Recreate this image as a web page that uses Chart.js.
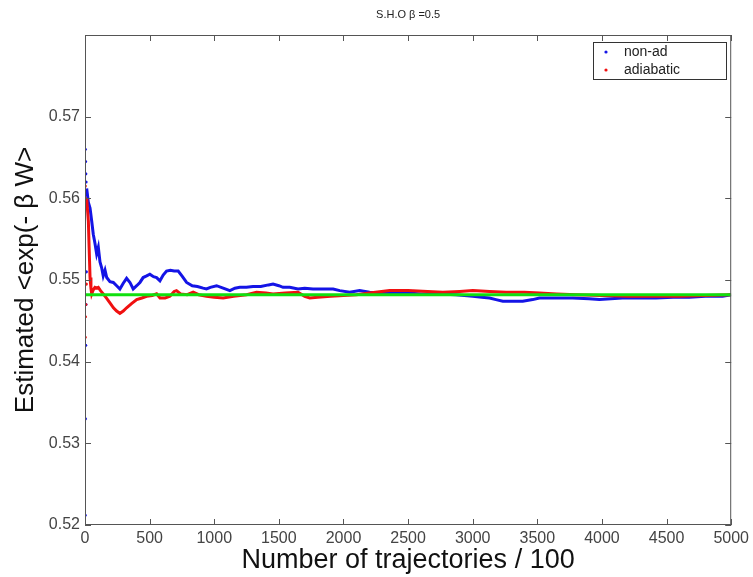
<!DOCTYPE html>
<html>
<head>
<meta charset="utf-8">
<script src="https://cdn.jsdelivr.net/npm/chart.js@4.4.1/dist/chart.umd.min.js"></script>
<style>
  body { margin: 0; background: #fff; }
  #wrap { width: 753px; height: 577px; }
</style>
</head>
<body>
<div id="wrap"><canvas id="shoChart"></canvas></div>
<script>
// values
const titleText = 'S.H.O \u03b2 =0.5';
const xTitle = 'Number of trajectories / 100';
const yTitle = 'Estimated <exp(- \u03b2 W>';
const seriesNames = ['non-ad', 'adiabatic'];

const exactValue = 0.5482; // green reference line

// non-ad (blue)
const blueX = [1, 2, 3, 4, 5, 6, 7, 8, 10, 12,
  13, 26, 39, 52, 64, 77, 90, 103, 116, 129, 141, 155, 168, 193, 219, 245, 270, 296, 322, 348,
  373, 400, 425, 450, 477, 502, 530, 554, 580, 605, 631, 660, 690, 721, 750, 786, 830, 870, 914, 940,
  970, 1018, 1069, 1121, 1160, 1198, 1249, 1300, 1360, 1420, 1455, 1500, 1532, 1584, 1648, 1700, 1764, 1842, 1920, 1971,
  2048, 2125, 2202, 2305, 2400, 2500, 2600, 2743, 2870, 3001, 3070, 3130, 3180, 3233, 3300, 3387, 3464, 3516, 3600, 3700,
  3774, 3900, 3980, 4158, 4300, 4418, 4550, 4675, 4800, 4933, 5000];
const blueY = [0.5212, 0.5660, 0.5330, 0.5645, 0.5420, 0.5630, 0.5470, 0.5620, 0.5510, 0.5605,
  0.5612, 0.5595, 0.5588, 0.5572, 0.5556, 0.5545, 0.5532, 0.5540, 0.5522, 0.5515, 0.5505, 0.5512, 0.5503, 0.5498, 0.5497, 0.5493, 0.5489, 0.5496, 0.5502, 0.5497,
  0.5489, 0.5493, 0.5497, 0.5503, 0.5505, 0.5507, 0.5504, 0.5503, 0.5499, 0.5506, 0.5511, 0.5512, 0.5511, 0.5511, 0.5505, 0.5497, 0.5493, 0.5492, 0.5490, 0.5489,
  0.5491, 0.5493, 0.5490, 0.5487, 0.5490, 0.5491, 0.5491, 0.5492, 0.5492, 0.5494, 0.5495, 0.5493, 0.5491, 0.5491, 0.5489, 0.5490, 0.5489, 0.5489, 0.5489, 0.5487,
  0.5485, 0.5487, 0.5485, 0.5484, 0.5484, 0.5484, 0.5483, 0.5483, 0.5482, 0.5480, 0.5479, 0.5478, 0.5476, 0.5474, 0.5474, 0.5474, 0.5476, 0.5478, 0.5478, 0.5478,
  0.5478, 0.5477, 0.5476, 0.5478, 0.5478, 0.5478, 0.5479, 0.5479, 0.5480, 0.5480, 0.5482];

// adiabatic (red)
const redX = [1, 2, 3, 4, 6, 8, 10,
  13, 20, 26, 32, 39, 46, 52, 64, 77, 90, 103, 120, 141, 165, 193, 220, 245, 270, 296, 322, 360,
  400, 440, 477, 520, 554, 580, 620, 657, 690, 708, 740, 790, 837, 880, 940, 1000, 1069, 1150, 1250,
  1327, 1400, 1455, 1550, 1648, 1700, 1739, 1800, 1900, 2000, 2100, 2200, 2357, 2500, 2650, 2769,
  2900, 3001, 3130, 3259, 3400, 3516, 3650, 3800, 4000, 4200, 4400, 4600, 4800, 5000];
const redY = [0.5430, 0.5615, 0.5455, 0.5600, 0.5470, 0.5590, 0.5495,
  0.5600, 0.5585, 0.5572, 0.5540, 0.5503, 0.5490, 0.5483, 0.5488, 0.5491, 0.5490, 0.5491, 0.5487, 0.5483, 0.5478, 0.5472, 0.5466, 0.5462, 0.5459, 0.5462, 0.5466, 0.5471,
  0.5476, 0.5478, 0.5480, 0.5481, 0.5483, 0.5478, 0.5478, 0.5480, 0.5486, 0.5487, 0.5483, 0.5482, 0.5485, 0.5482, 0.5480, 0.5479, 0.5478, 0.5480, 0.5482,
  0.5485, 0.5484, 0.5483, 0.5484, 0.5485, 0.5480, 0.5478, 0.5479, 0.5480, 0.5481, 0.5482, 0.5484, 0.5487, 0.5487, 0.5486, 0.5485,
  0.5486, 0.5487, 0.5486, 0.5485, 0.5485, 0.5484, 0.5483, 0.5482, 0.5481, 0.5480, 0.5480, 0.5480, 0.5481, 0.5482];

const xMin = 0, xMax = 5000, xStep = 500;
const yMin = 0.52, yMax = 0.58, yStep = 0.01;

const toPoints = (xs, ys) => xs.map((x, i) => ({ x: x, y: ys[i] }));

const FONT = "'Liberation Sans', Arial, sans-serif";
const BLUE = '#1414e6';
const RED = '#f01010';
const GREEN = '#10e010';

// the first few samples are scattered dots, no joining line
const earlyDot = ctx => (ctx.raw && ctx.raw.x < 13 ? 1.6 : 0);
const earlySegment = color => ({
    borderColor: ctx => (ctx.p1.parsed.x <= 13 ? 'transparent' : color)
});

// inward ticks on all four sides, box, title and legend inside the plot
const matlabFrame = {
    id: 'matlabFrame',
    afterDraw(chart) {
        const ctx = chart.ctx;
        const { left, right, top, bottom } = chart.chartArea;
        const xs = chart.scales.x;
        const ys = chart.scales.y;
        ctx.save();
        ctx.strokeStyle = '#555';
        ctx.lineWidth = 1;
        ctx.strokeRect(left + 0.5, top + 0.5, right - left - 1, bottom - top - 1);

        ctx.beginPath();
        xs.ticks.forEach(t => {
            const px = Math.round(xs.getPixelForValue(t.value)) + 0.5;
            ctx.moveTo(px, bottom); ctx.lineTo(px, bottom - 6);
            ctx.moveTo(px, top); ctx.lineTo(px, top + 6);
        });
        ys.ticks.forEach(t => {
            const py = Math.round(ys.getPixelForValue(t.value)) + 0.5;
            ctx.moveTo(left, py); ctx.lineTo(left + 6, py);
            ctx.moveTo(right, py); ctx.lineTo(right - 6, py);
        });
        ctx.stroke();

        // title
        ctx.fillStyle = '#222';
        ctx.font = '11px ' + FONT;
        ctx.textAlign = 'center';
        ctx.textBaseline = 'middle';
        ctx.fillText(titleText, (left + right) / 2, 15);

        // legend box
        const bx = 593, by = 42, bw = 133, bh = 37;
        ctx.fillStyle = '#fff';
        ctx.fillRect(bx, by, bw, bh);
        ctx.strokeStyle = '#333';
        ctx.strokeRect(bx + 0.5, by + 0.5, bw, bh);
        const colors = [BLUE, RED];
        seriesNames.forEach((name, i) => {
            const ly = by + 10 + i * 18;
            ctx.fillStyle = colors[i];
            ctx.beginPath();
            ctx.arc(bx + 13, ly, 1.6, 0, Math.PI * 2);
            ctx.fill();
            ctx.fillStyle = '#222';
            ctx.font = '14px ' + FONT;
            ctx.textAlign = 'left';
            ctx.fillText(name, bx + 31, ly);
        });
        ctx.restore();
    }
};

const ctx = document.getElementById('shoChart').getContext('2d');
const shoChart = new Chart(ctx, {
    type: 'line',
    data: {
        datasets: [{
            label: 'exact',
            data: [{ x: xMin, y: exactValue }, { x: xMax, y: exactValue }],
            borderColor: GREEN,
            borderWidth: 3,
            pointRadius: 0,
            order: 0
        }, {
            label: seriesNames[1],
            data: toPoints(redX, redY),
            borderColor: RED,
            backgroundColor: RED,
            borderWidth: 3,
            pointRadius: earlyDot,
            pointBorderWidth: 0,
            segment: earlySegment(RED),
            order: 1
        }, {
            label: seriesNames[0],
            data: toPoints(blueX, blueY),
            borderColor: BLUE,
            backgroundColor: BLUE,
            borderWidth: 3,
            pointRadius: earlyDot,
            pointBorderWidth: 0,
            segment: earlySegment(BLUE),
            order: 2
        }]
    },
    options: {
        responsive: true,
        maintainAspectRatio: false,
        animation: false,
        layout: { padding: { top: 35, right: 20, left: 0, bottom: 0 } },
        plugins: {
            legend: { display: false },
            tooltip: { enabled: false }
        },
        scales: {
            x: {
                type: 'linear',
                min: xMin,
                max: xMax,
                grid: { display: false, drawTicks: false },
                border: { display: false },
                ticks: {
                    stepSize: xStep,
                    padding: 4,
                    color: '#444',
                    font: { family: FONT, size: 16 },
                    maxRotation: 0,
                    callback: v => String(v)
                },
                title: {
                    display: true,
                    text: xTitle,
                    color: '#111',
                    font: { family: FONT, size: 27 },
                    padding: { top: 0, bottom: 0 }
                },
                afterFit(scale) { scale.height = 52; }
            },
            y: {
                type: 'linear',
                min: yMin,
                max: yMax,
                grid: { display: false, drawTicks: false },
                border: { display: false },
                ticks: {
                    stepSize: yStep,
                    padding: 5,
                    color: '#444',
                    font: { family: FONT, size: 16 },
                    callback: v => (v > yMax - yStep / 2 ? '' : v.toFixed(2))
                },
                title: {
                    display: true,
                    text: yTitle,
                    color: '#111',
                    font: { family: FONT, size: 26 },
                    padding: { top: 10, bottom: 0 }
                },
                afterFit(scale) { scale.width = 85; }
            }
        }
    },
    plugins: [matlabFrame]
});
</script>
</body>
</html>
